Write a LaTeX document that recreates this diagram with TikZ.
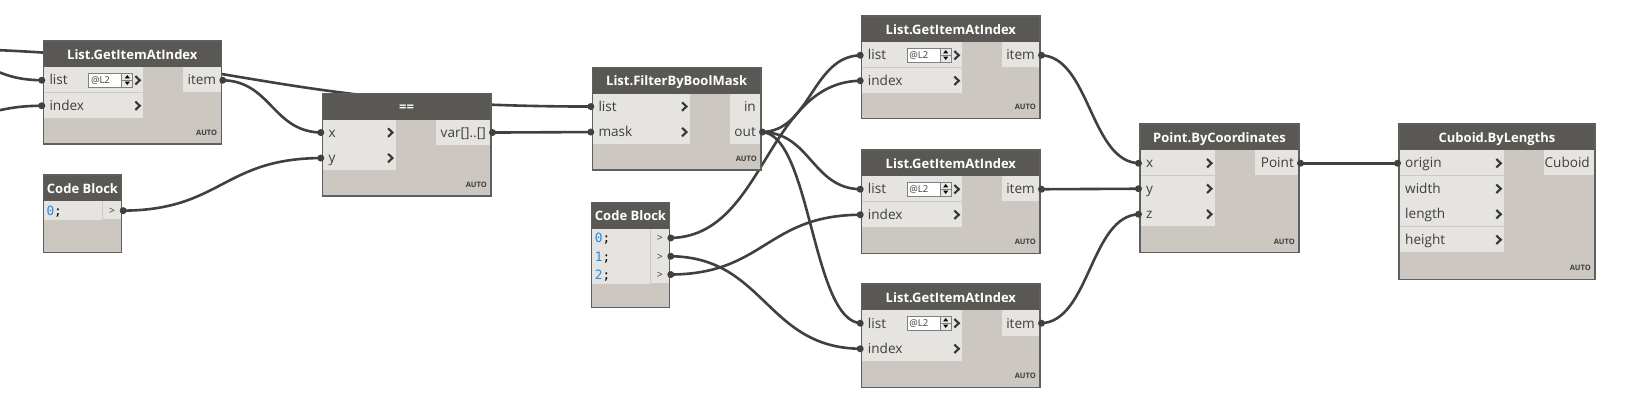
\documentclass[tikz,border=0pt]{standalone}
\usepackage{fontspec}
\setmainfont{Open Sans}
\setmonofont{DejaVu Sans Mono}
\usetikzlibrary{calc}
\pgfdeclarelayer{bg}
\pgfsetlayers{bg,main}
\definecolor{headcol}{RGB}{90,88,85}
\definecolor{bodycol}{RGB}{204,200,193}
\definecolor{rowcol}{RGB}{230,228,224}
\definecolor{sepcol}{RGB}{205,202,197}
\definecolor{bordercol}{RGB}{95,95,95}
\definecolor{labelcol}{RGB}{62,62,62}
\definecolor{chevcol}{RGB}{55,55,55}
\definecolor{wirecol}{RGB}{64,64,64}
\definecolor{codeblue}{RGB}{30,140,240}
\definecolor{spinbg}{RGB}{232,232,232}
\tikzset{
  wire/.style={draw=wirecol, line width=2.6pt},
  ttl/.style={text=white, font=\fontsize{13}{15}\selectfont\bfseries, inner sep=0pt, anchor=base},
  lbl/.style={text=labelcol, font=\fontsize{13.6}{15}\selectfont, inner sep=0pt},
  autolbl/.style={text=labelcol, font=\fontsize{7.5}{9}\selectfont\bfseries, inner sep=0pt, anchor=base east},
  chev/.style={draw=chevcol, line width=2.1pt},
  codetxt/.style={font=\fontsize{12.8}{14}\ttfamily, inner sep=0pt, anchor=base west},
  outgt/.style={text=labelcol, font=\fontsize{10.5}{12}\selectfont, inner sep=0pt, anchor=base},
  spintxt/.style={text=labelcol, font=\fontsize{9.5}{11}\selectfont, inner sep=0pt, anchor=base west},
}
% node body: name, x, y, w, h, title
\newcommand\dynbody[6]{%
  \def\DNname{#1}\def\DNx{#2}\def\DNy{#3}\def\DNw{#4}\def\DNh{#5}%
  \fill[bodycol] (#2,#3) rectangle (#2+#4,#3+#5);
  \fill[headcol] (#2,#3) rectangle (#2+#4,#3+26.5);
  \node[ttl] (#1) at (#2+#4/2,#3+18.2) {#6};
}
% input row: port, idx, label, inW
\newcommand\inrow[4]{%
  \fill[rowcol] (\DNx,\DNy+26.5+#2*25.5) rectangle (\DNx+#4,\DNy+26.5+#2*25.5+25.5);
  \draw[sepcol, line width=1pt] (\DNx,\DNy+26.5+#2*25.5+25.5) -- (\DNx+#4,\DNy+26.5+#2*25.5+25.5);
  \node[lbl, anchor=base west] (\DNname-#1-l) at (\DNx+6,\DNy+26.5+#2*25.5+17.5) {#3};
  \draw[chev] (\DNx+#4-8,\DNy+26.5+#2*25.5+8.5) -- (\DNx+#4-3.5,\DNy+26.5+#2*25.5+12.75) -- (\DNx+#4-8,\DNy+26.5+#2*25.5+17);
  \coordinate (\DNname-#1) at (\DNx,\DNy+26.5+#2*25.5+12.75);
}
% output row: port, idx, label, cellW
\newcommand\outrow[4]{%
  \fill[rowcol] (\DNx+\DNw-#4,\DNy+26.5+#2*25.5) rectangle (\DNx+\DNw,\DNy+26.5+#2*25.5+25.5);
  \draw[sepcol, line width=1pt] (\DNx+\DNw-#4,\DNy+26.5+#2*25.5+25.5) -- (\DNx+\DNw,\DNy+26.5+#2*25.5+25.5);
  \node[lbl, anchor=base east] (\DNname-#1-l) at (\DNx+\DNw-5,\DNy+26.5+#2*25.5+17.5) {#3};
  \coordinate (\DNname-#1) at (\DNx+\DNw,\DNy+26.5+#2*25.5+12.75);
}
% spinner on row idx
\newcommand\spin[1]{%
  \filldraw[fill=white, draw=gray, line width=0.8pt] (\DNx+45.5,\DNy+26.5+#1*25.5+5.5) rectangle (\DNx+89.5,\DNy+26.5+#1*25.5+19.5);
  \filldraw[fill=spinbg, draw=gray, line width=0.8pt] (\DNx+78.5,\DNy+26.5+#1*25.5+5.5) rectangle (\DNx+89.5,\DNy+26.5+#1*25.5+19.5);
  \draw[gray, line width=0.6pt] (\DNx+78.5,\DNy+26.5+#1*25.5+12.5) -- (\DNx+89.5,\DNy+26.5+#1*25.5+12.5);
  \fill[black] (\DNx+81.5,\DNy+26.5+#1*25.5+10.8) -- (\DNx+86.5,\DNy+26.5+#1*25.5+10.8) -- (\DNx+84,\DNy+26.5+#1*25.5+7.6) -- cycle;
  \fill[black] (\DNx+81.5,\DNy+26.5+#1*25.5+14.2) -- (\DNx+86.5,\DNy+26.5+#1*25.5+14.2) -- (\DNx+84,\DNy+26.5+#1*25.5+17.4) -- cycle;
  \node[spintxt] (\DNname-spin) at (\DNx+47.5,\DNy+26.5+#1*25.5+16.2) {@L2};
}
\newcommand\dynend{%
  \draw[bordercol, line width=1.2pt] (\DNx,\DNy) rectangle (\DNx+\DNw,\DNy+\DNh);
  \node[autolbl] (\DNname-auto) at (\DNx+\DNw-4,\DNy+\DNh-8.5) {AUTO};
}
% code block: name, x, y, w, h
\newcommand\codeblock[5]{%
  \def\DNname{#1}\def\DNx{#2}\def\DNy{#3}\def\DNw{#4}\def\DNh{#5}%
  \fill[bodycol] (#2,#3) rectangle (#2+#4,#3+#5);
  \fill[headcol] (#2,#3) rectangle (#2+#4,#3+26.5);
  \node[ttl] (#1) at (#2+#4/2,#3+18.2) {Code Block};
}
% code row: port, idx, digit
\newcommand\coderow[3]{%
  \fill[rowcol] (\DNx,\DNy+26.5+#2*18.3) rectangle (\DNx+\DNw,\DNy+26.5+#2*18.3+18.3);
  \draw[sepcol, line width=1pt] (\DNx+\DNw-19,\DNy+26.5+#2*18.3) -- (\DNx+\DNw-19,\DNy+26.5+#2*18.3+18.3);
  \draw[sepcol, line width=1pt] (\DNx+\DNw-19,\DNy+26.5+#2*18.3+18.3) -- (\DNx+\DNw,\DNy+26.5+#2*18.3+18.3);
  \node[codetxt] (\DNname-#1-l) at (\DNx+3,\DNy+26.5+#2*18.3+14) {\textcolor{codeblue}{#3};};
  \node[outgt] (\DNname-#1-g) at (\DNx+\DNw-9.5,\DNy+26.5+#2*18.3+13.2) {>};
  \coordinate (\DNname-#1) at (\DNx+\DNw,\DNy+26.5+#2*18.3+9.15);
}
\newcommand\codeend{%
  \draw[bordercol, line width=1.2pt] (\DNx,\DNy) rectangle (\DNx+\DNw,\DNy+\DNh);
}
\newcommand\pin[1]{\fill[wirecol] ($(#1)+(-1.5,0)$) circle[radius=3.5pt];}
\newcommand\pout[1]{\fill[wirecol] ($(#1)+(1.5,0)$) circle[radius=3.5pt];}
\newcommand\wire[3]{\draw[wire] (#1) .. controls +(#3,0) and +(-#3,0) .. (#2);}

\begin{document}
\begin{tikzpicture}[x=1pt,y=-1pt]
\useasboundingbox (0,0) rectangle (1625,403);
\begin{pgfonlayer}{bg}
\fill[white] (0,0) rectangle (1625,403);
\end{pgfonlayer}

% ---------- nodes ----------
\dynbody{g1}{43.3}{41}{178}{103}{List.GetItemAtIndex}
\inrow{list}{0}{list}{100}
\spin{0}
\inrow{index}{1}{index}{100}
\outrow{item}{0}{item}{38}
\dynend

\codeblock{cb1}{43.3}{175}{78.4}{77.3}
\coderow{o0}{0}{0}
\codeend

\dynbody{eq}{322.3}{93.3}{168.7}{102.7}{==}
\inrow{x}{0}{x}{73.7}
\inrow{y}{1}{y}{73.7}
\outrow{out}{0}{var[]..[]}{55}
\dynend

\dynbody{flt}{592.3}{67.3}{168.7}{102.7}{List.FilterByBoolMask}
\inrow{list}{0}{list}{97.7}
\inrow{mask}{1}{mask}{97.7}
\outrow{in}{0}{in}{31}
\outrow{out}{1}{out}{31}
\dynend

\codeblock{cb2}{591.7}{202.3}{77.6}{105}
\coderow{o0}{0}{0}
\coderow{o1}{1}{1}
\coderow{o2}{2}{2}
\codeend

\dynbody{g2}{861.7}{16}{178.3}{102.3}{List.GetItemAtIndex}
\inrow{list}{0}{list}{100.6}
\spin{0}
\inrow{index}{1}{index}{100.6}
\outrow{item}{0}{item}{38.3}
\dynend

\dynbody{g3}{861.7}{150}{178.3}{103.3}{List.GetItemAtIndex}
\inrow{list}{0}{list}{100.6}
\spin{0}
\inrow{index}{1}{index}{100.6}
\outrow{item}{0}{item}{38.3}
\dynend

\dynbody{g4}{861.7}{284}{178.3}{103.3}{List.GetItemAtIndex}
\inrow{list}{0}{list}{100.6}
\spin{0}
\inrow{index}{1}{index}{100.6}
\outrow{item}{0}{item}{38.3}
\dynend

\dynbody{pt}{1140}{124}{159}{128.7}{Point.ByCoordinates}
\inrow{x}{0}{x}{75}
\inrow{y}{1}{y}{75}
\inrow{z}{2}{z}{75}
\outrow{out}{0}{Point}{44}
\dynend

\dynbody{cub}{1399}{124}{196}{155.3}{Cuboid.ByLengths}
\inrow{origin}{0}{origin}{105.3}
\inrow{width}{1}{width}{105.3}
\inrow{length}{2}{length}{105.3}
\inrow{height}{3}{height}{105.3}
\outrow{out}{0}{Cuboid}{51}
\dynend

% free ends of wires from nodes outside the picture
\coordinate (offA) at (-110,48);
\coordinate (offB) at (-60,58);
\coordinate (offC) at (-50,116);

% ---------- wires (under the nodes) ----------
\begin{pgfonlayer}{bg}
\wire{offA}{flt-list}{350}
\wire{offB}{g1-list}{51}
\wire{offC}{g1-index}{46}
\wire{g1-item}{eq-x}{50}
\wire{cb1-o0}{eq-y}{100}
\wire{eq-out}{flt-mask}{50}
\wire{flt-out}{g2-list}{50}
\wire{flt-out}{g3-list}{50}
\wire{flt-out}{g4-list}{50}
\wire{cb2-o0}{g2-index}{96}
\wire{cb2-o1}{g4-index}{96}
\wire{cb2-o2}{g3-index}{96}
\wire{g2-item}{pt-x}{50}
\wire{g3-item}{pt-y}{50}
\wire{g4-item}{pt-z}{50}
\wire{pt-out}{cub-origin}{50}
\end{pgfonlayer}

% ---------- port markers ----------
\pin{g1-list}\pin{g1-index}\pout{g1-item}
\pout{cb1-o0}
\pin{eq-x}\pin{eq-y}\pout{eq-out}
\pin{flt-list}\pin{flt-mask}\pout{flt-out}
\pout{cb2-o0}\pout{cb2-o1}\pout{cb2-o2}
\pin{g2-list}\pin{g2-index}\pout{g2-item}
\pin{g3-list}\pin{g3-index}\pout{g3-item}
\pin{g4-list}\pin{g4-index}\pout{g4-item}
\pin{pt-x}\pin{pt-y}\pin{pt-z}\pout{pt-out}
\pin{cub-origin}
\end{tikzpicture}
\end{document}
